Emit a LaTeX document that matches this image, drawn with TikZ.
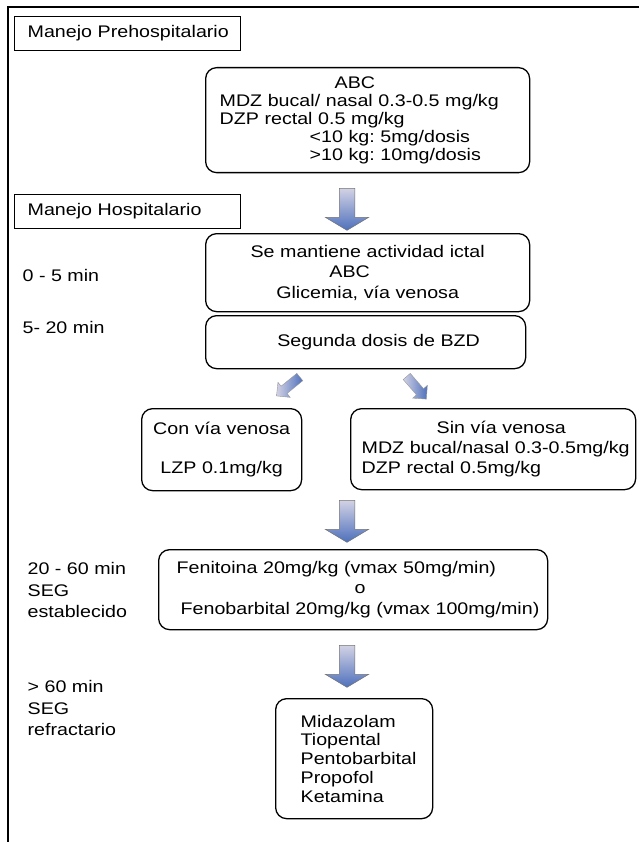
\documentclass[tikz,border=0pt]{standalone}
\usepackage{fontspec}
\setmainfont{Liberation Sans}[FakeStretch=1.17]
\usetikzlibrary{shapes.arrows}
\definecolor{arrtop}{RGB}{210,210,228}
\definecolor{arrbot}{RGB}{78,112,188}
\frenchspacing
\begin{document}
\begin{tikzpicture}[x=1pt,y=-1pt,line width=1.3pt,
  every node/.style={font=\fontsize{16.8}{19.5}\selectfont},
  sqbox/.style={draw,rectangle,anchor=north west,inner sep=0pt,align=left},
  rbox/.style={draw,rounded corners=11pt,anchor=north west,inner sep=0pt},
  lbl/.style={anchor=west,align=left,inner sep=0pt},
  bigarr/.style={single arrow,draw=black!55,line width=0.5pt,inner sep=7.5pt,
    minimum height=42pt,single arrow head extend=14pt,
    single arrow tip angle=118,shape border rotate=270,
    top color=arrtop,bottom color=arrbot},
  smallarr/.style={single arrow,draw=black!40,line width=0.4pt,inner sep=4.5pt,
    minimum height=30pt,single arrow head extend=5pt,
    left color=arrtop,right color=arrbot}]
\useasboundingbox (0,0) rectangle (639,842);
\draw[line width=1.8pt] (639,7) -- (8,7) -- (8,842);

\node[sqbox,text width=226pt,minimum height=34pt] (prehosp) at (14,16) {\hspace*{13pt}Manejo Prehospitalario};
\node[rbox,text width=324pt,minimum height=105pt,align=left,font=\fontsize{16.8}{18}\selectfont] (abc) at (205,67)
  {\hspace*{129pt}ABC\\\hspace*{14pt}MDZ bucal/ nasal 0.3-0.5 mg/kg\\\hspace*{14pt}DZP rectal 0.5 mg/kg\\
   \hspace*{104pt}<10 kg: 5mg/dosis\\\hspace*{104pt}>10 kg: 10mg/dosis};
\node[bigarr] (arr1) at (347,207) {};

\node[sqbox,text width=226pt,minimum height=34pt] (hosp) at (14,194) {\hspace*{13pt}Manejo Hospitalario};
\node[rbox,text width=324pt,minimum height=78pt,align=center,font=\fontsize{16.8}{20.5}\selectfont] (mant) at (205,233)
  {Se mantiene actividad ictal\\\hspace*{-36pt}ABC\\Glicemia, vía venosa};
\node[lbl] (t05) at (22,275) {0 - 5 min};

\node[rbox,text width=320pt,minimum height=53pt,align=center] (bzd) at (205,315) {\hspace*{26pt}Segunda dosis de BZD};
\node[lbl] (t520) at (22,327) {5- 20 min};
\node[smallarr,rotate=-141] (arrcon) at (290,385) {};
\node[smallarr,rotate=-49] (arrsin) at (415,386) {};

\node[rbox,text width=160pt,minimum height=82pt,align=center] (con) at (141,408)
  {Con vía venosa\\[20pt]LZP 0.1mg/kg};
\node[rbox,text width=285pt,minimum height=81pt,align=left,font=\fontsize{16.8}{20}\selectfont] (sin) at (350,408)
  {\hspace*{86pt}Sin vía venosa\\\hspace*{11pt}MDZ bucal/nasal 0.3-0.5mg/kg\\\hspace*{11pt}DZP rectal 0.5mg/kg};
\node[bigarr] (arr2) at (347,519) {};

\node[rbox,text width=389pt,minimum height=80pt,align=left,font=\fontsize{16.8}{20}\selectfont] (feni) at (158,549)
  {\hspace*{18pt}Fenitoina 20mg/kg (vmax 50mg/min)\\\hspace*{196pt}o\\\hspace*{22pt}Fenobarbital 20mg/kg (vmax 100mg/min)};
\node[lbl,font=\fontsize{16.8}{21.5}\selectfont] (t2060) at (27,590) {20 - 60 min\\SEG\\establecido};
\node[bigarr] (arr3) at (347,664) {};

\node[lbl,font=\fontsize{16.8}{21.5}\selectfont] (t60) at (27,708) {> 60 min\\SEG\\refractario};
\node[rbox,text width=157pt,minimum height=120pt,align=left,font=\fontsize{16.8}{18.7}\selectfont] (refr) at (275,698)
  {\hspace*{25pt}Midazolam\\\hspace*{25pt}Tiopental\\\hspace*{25pt}Pentobarbital\\\hspace*{25pt}Propofol\\\hspace*{25pt}Ketamina};
\end{tikzpicture}
\end{document}
